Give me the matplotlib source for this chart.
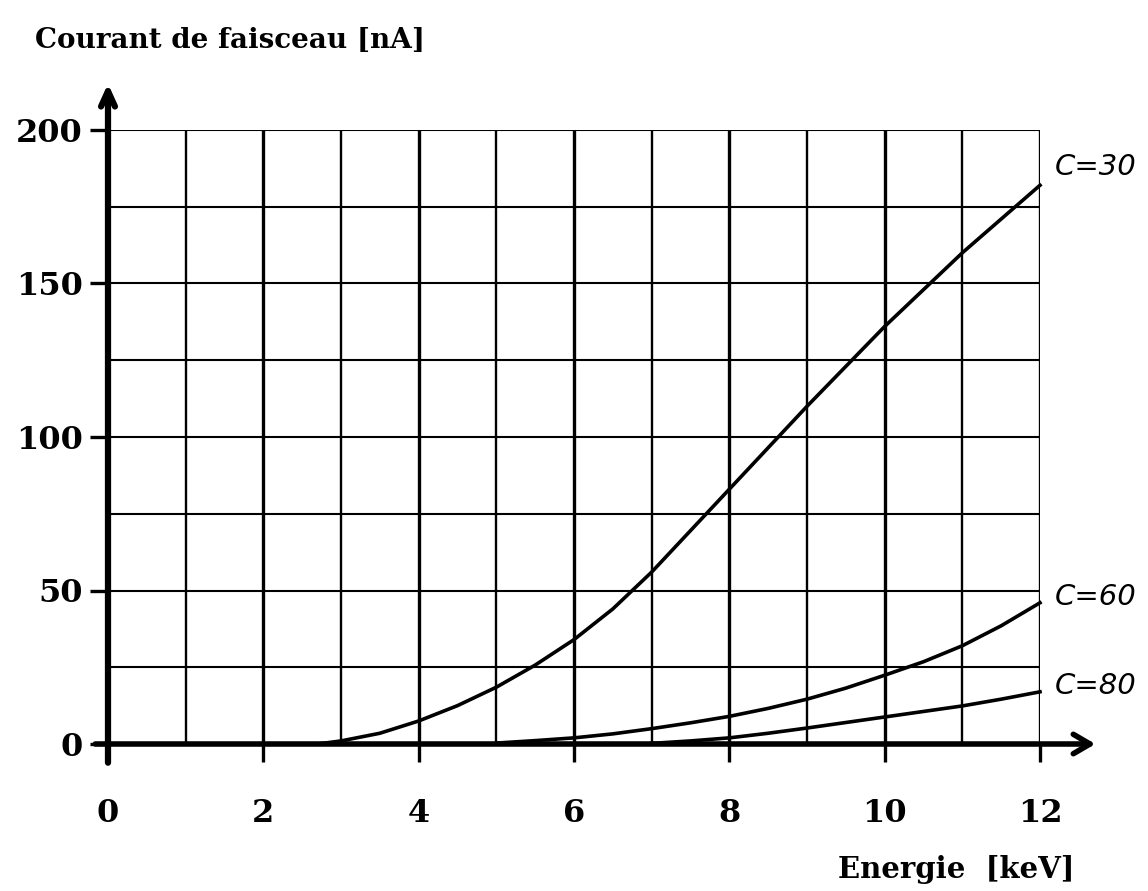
"""
Courant de faisceau en fonction de l'energie pour trois valeurs de C
"""

import numpy as np
import matplotlib.pyplot as plt

# Curves
energy_c30 = [0, 2.7, 3, 3.5, 4, 4.5, 5, 5.5, 6, 6.5, 7, 7.5, 8, 8.5, 9, 9.5, 10, 10.5, 11, 11.5, 12]
current_c30 = [0, 0, 1, 3.5, 7.5, 12.5, 18.5, 25.7, 34, 44, 56, 69.5, 83, 96.5, 110, 123, 136, 148, 160, 171, 182]

energy_c60 = [5, 5.5, 6, 6.5, 7, 7.5, 8, 8.5, 9, 9.5, 10, 10.5, 11, 11.5, 12]
current_c60 = [0.3, 1.1, 2, 3.3, 5, 6.9, 9, 11.6, 14.6, 18.2, 22.4, 26.8, 32, 38.5, 46]

energy_c80 = [7, 7.5, 8, 8.5, 9, 9.5, 10, 10.5, 11, 11.5, 12]
current_c80 = [0.2, 1, 2, 3.5, 5.2, 7, 8.8, 10.6, 12.4, 14.6, 17]

curve_labels = ['C=30', 'C=60', 'C=80']
x_ticks = [0, 2, 4, 6, 8, 10, 12]
y_ticks = [0, 50, 100, 150, 200]

fig = plt.figure(figsize=(11.48, 8.91), dpi=100)
ax = fig.add_axes([108 / 1148, 1 - 744 / 891, 932 / 1148, 614 / 891])
ax.set_xlim(0, 12)
ax.set_ylim(0, 200)
for s in ax.spines.values():
    s.set_visible(False)

# grid: one vertical line per keV, one horizontal line per 25 nA
for gx in range(1, 13):
    lw = 2.4 if gx % 2 == 0 else 1.7
    ax.plot([gx, gx], [0, 200], color='black', lw=lw, zorder=1)
for gy in np.arange(25, 201, 25):
    ax.plot([0, 12], [gy, gy], color='black', lw=1.5, zorder=1)

# axes with arrows
ax.annotate('', xy=(12.75, 0), xytext=(-0.2, 0),
            arrowprops=dict(arrowstyle='->,head_length=1.2,head_width=0.7', lw=4, color='black'),
            annotation_clip=False, zorder=3)
ax.annotate('', xy=(0, 216), xytext=(0, -7),
            arrowprops=dict(arrowstyle='->,head_length=1.1,head_width=0.5', lw=4.5, color='black'),
            annotation_clip=False, zorder=3)

# curves
for xs, ys in [(energy_c30, current_c30), (energy_c60, current_c60), (energy_c80, current_c80)]:
    ax.plot(xs, ys, color='black', lw=2.6, zorder=2, clip_on=False)

label_y = [current_c30[-1] + 6, current_c60[-1] + 2, current_c80[-1] + 2]
for lab, ly in zip(curve_labels, label_y):
    ax.text(12.19, ly, lab, fontsize=21, style='italic', family='DejaVu Sans',
            ha='left', va='center')

ax.set_xticks(x_ticks)
ax.set_yticks(y_ticks)
ax.set_xticklabels([str(v) for v in x_ticks])
ax.set_yticklabels([str(v) for v in y_ticks])
ax.tick_params(axis='x', direction='out', length=13, width=2.4, pad=26)
ax.tick_params(axis='y', direction='out', length=13, width=2.4, pad=5)
for lab in ax.get_xticklabels() + ax.get_yticklabels():
    lab.set_fontfamily('DejaVu Serif')
    lab.set_fontweight('bold')
    lab.set_fontsize(23)

fig.text(35 / 1148, 1 - 40 / 891, 'Courant de faisceau [nA]', fontsize=20,
         family='DejaVu Serif', fontweight='bold', ha='left', va='center')
fig.text(1075 / 1148, 1 - 870 / 891, 'Energie  [keV]', fontsize=21,
         family='DejaVu Serif', fontweight='bold', ha='right', va='center')

plt.savefig('out.png', dpi=100)
